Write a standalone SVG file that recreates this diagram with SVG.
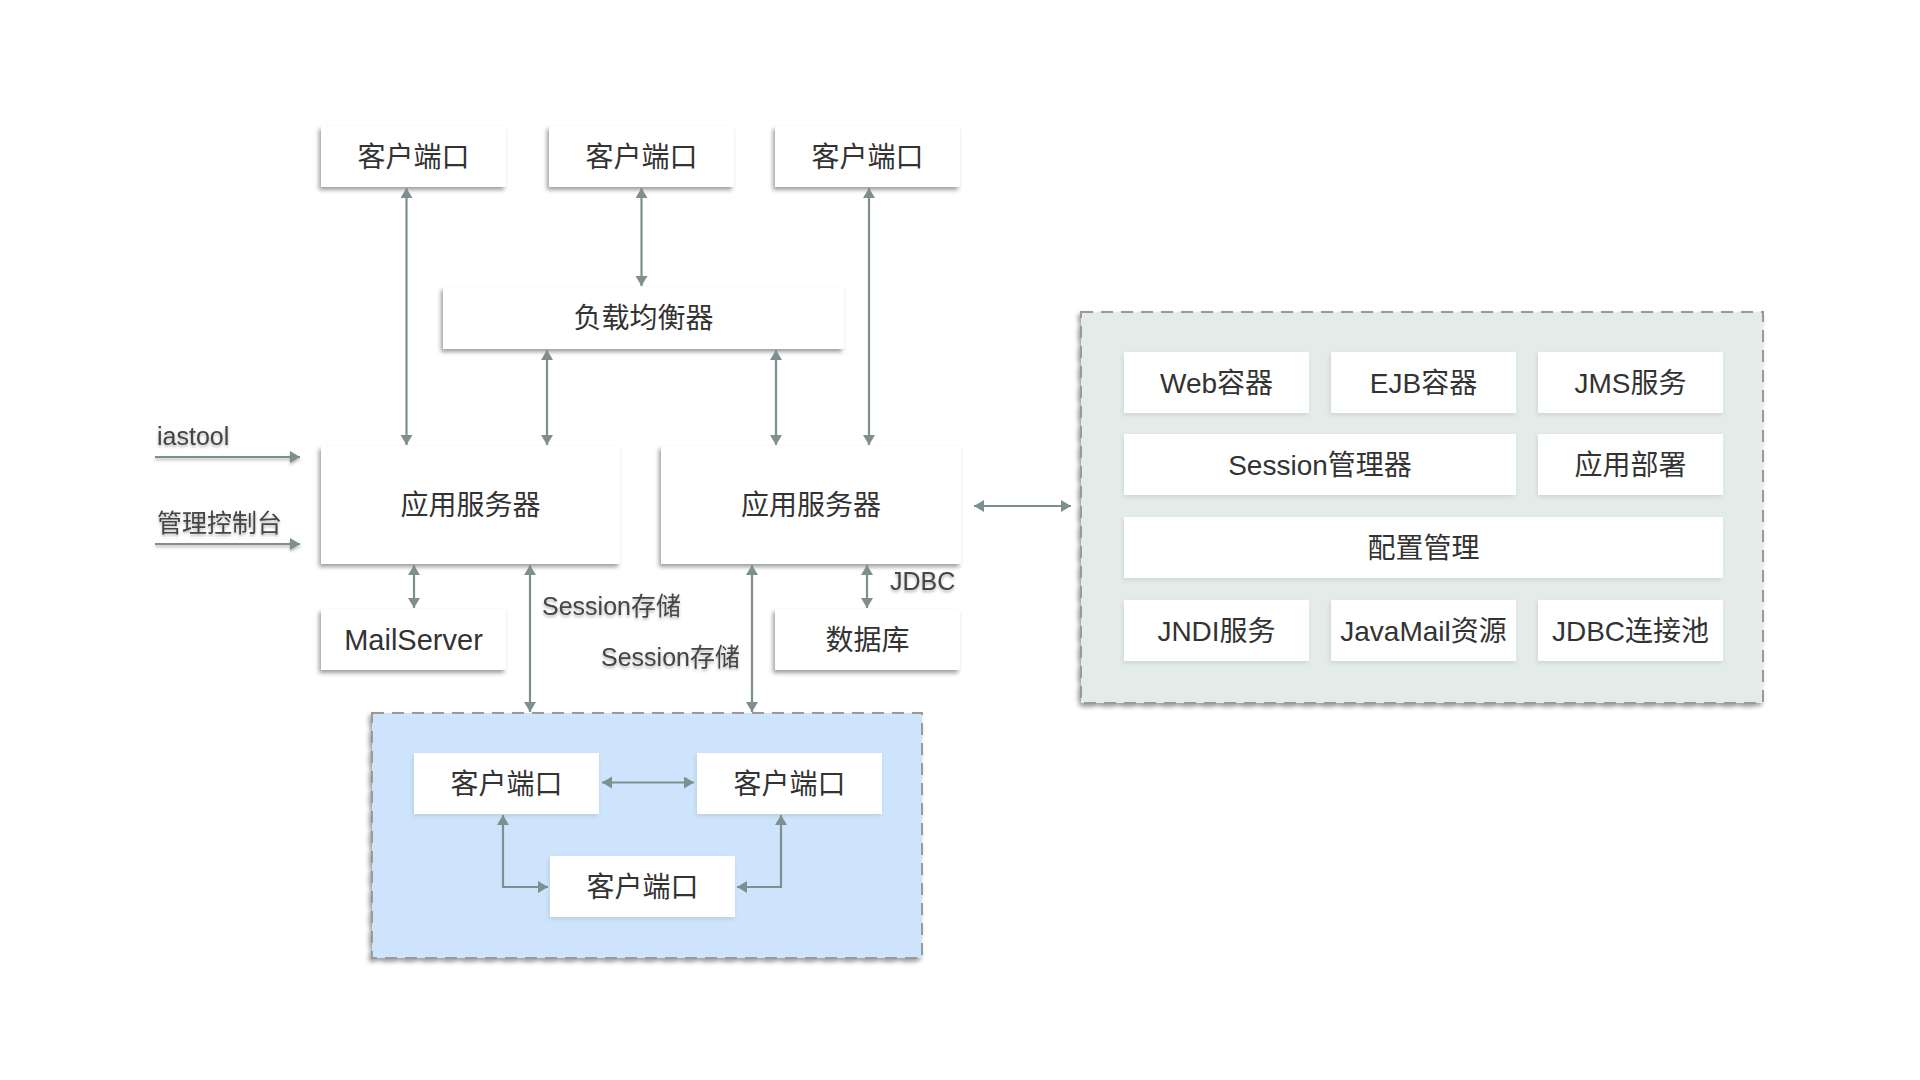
<svg xmlns="http://www.w3.org/2000/svg" width="1920" height="1080" viewBox="0 0 1920 1080">
<style>
.box{fill:#ffffff;}
.t{font-family:"Liberation Sans","Noto Sans CJK SC",sans-serif;font-size:28px;fill:#333333;text-anchor:middle;}
.lbl{font-family:"Liberation Sans","Noto Sans CJK SC",sans-serif;font-size:25px;fill:#444444;}
.c{fill:none;stroke:#7d8f8f;stroke-width:2.2;}
.grp{stroke:#9a9a9a;stroke-width:2;stroke-dasharray:12 8;}
</style>
<defs>
<filter id="sh" x="-10%" y="-20%" width="120%" height="150%">
<feDropShadow dx="-2" dy="3" stdDeviation="2" flood-color="#000" flood-opacity="0.38"/>
</filter>
<filter id="shl" x="-10%" y="-20%" width="120%" height="150%">
<feDropShadow dx="-1" dy="2" stdDeviation="2" flood-color="#000" flood-opacity="0.10"/>
</filter>
<filter id="tsh" x="-10%" y="-30%" width="120%" height="180%">
<feDropShadow dx="0" dy="2" stdDeviation="1.5" flood-color="#000" flood-opacity="0.3"/>
</filter>
<filter id="lsh" filterUnits="userSpaceOnUse" x="100" y="420" width="240" height="160">
<feDropShadow dx="0" dy="2" stdDeviation="1.5" flood-color="#000" flood-opacity="0.3"/>
</filter>
<marker id="ah" markerUnits="userSpaceOnUse" markerWidth="12" markerHeight="14" refX="10" refY="6" orient="auto-start-reverse">
<path d="M0,0 L10,6 L0,12 Z" fill="#7d8f8f"/>
</marker>
</defs>
<rect width="1920" height="1080" fill="#ffffff"/>

<g id="group-session">
<rect class="grp" x="372" y="713" width="550" height="245" fill="#cde4fc" filter="url(#sh)"/>
</g>
<g id="group-services">
<rect class="grp" x="1081" y="312" width="682" height="391" fill="#e4ecea" filter="url(#sh)"/>
</g>

<g id="client-1"><rect class="box" x="321" y="126" width="185" height="61" filter="url(#sh)"/><text class="t" x="413.5" y="166.5">客户端口</text></g>
<g id="client-2"><rect class="box" x="549" y="126" width="185" height="61" filter="url(#sh)"/><text class="t" x="641.5" y="166.5">客户端口</text></g>
<g id="client-3"><rect class="box" x="775" y="126" width="185" height="61" filter="url(#sh)"/><text class="t" x="867.5" y="166.5">客户端口</text></g>
<g id="load-balancer"><rect class="box" x="443" y="287" width="401" height="62" filter="url(#sh)"/><text class="t" x="643.5" y="328">负载均衡器</text></g>
<g id="app-server-1"><rect class="box" x="321" y="446" width="299" height="118" filter="url(#sh)"/><text class="t" x="470.5" y="515">应用服务器</text></g>
<g id="app-server-2"><rect class="box" x="661" y="446" width="300" height="118" filter="url(#sh)"/><text class="t" x="811" y="515">应用服务器</text></g>
<g id="mailserver"><rect class="box" x="321" y="609" width="185" height="61" filter="url(#sh)"/><text class="t" x="413.5" y="649.5" style="font-size:29px">MailServer</text></g>
<g id="database"><rect class="box" x="775" y="609" width="185" height="61" filter="url(#sh)"/><text class="t" x="867.5" y="649.5">数据库</text></g>

<g id="session-client-left"><rect class="box" x="414" y="753" width="185" height="61" filter="url(#shl)"/><text class="t" x="506.5" y="793.5">客户端口</text></g>
<g id="session-client-right"><rect class="box" x="697" y="753" width="185" height="61" filter="url(#shl)"/><text class="t" x="789.5" y="793.5">客户端口</text></g>
<g id="session-client-bottom"><rect class="box" x="550" y="856" width="185" height="61" filter="url(#shl)"/><text class="t" x="642.5" y="896.5">客户端口</text></g>

<g id="web-container"><rect class="box" x="1124" y="352" width="185" height="61" filter="url(#shl)"/><text class="t" x="1216.5" y="392.5">Web容器</text></g>
<g id="ejb-container"><rect class="box" x="1331" y="352" width="185" height="61" filter="url(#shl)"/><text class="t" x="1423.5" y="392.5">EJB容器</text></g>
<g id="jms-service"><rect class="box" x="1538" y="352" width="185" height="61" filter="url(#shl)"/><text class="t" x="1630.5" y="392.5">JMS服务</text></g>
<g id="session-manager"><rect class="box" x="1124" y="434" width="392" height="61" filter="url(#shl)"/><text class="t" x="1320" y="474.5">Session管理器</text></g>
<g id="app-deploy"><rect class="box" x="1538" y="434" width="185" height="61" filter="url(#shl)"/><text class="t" x="1630.5" y="474.5">应用部署</text></g>
<g id="config-manage"><rect class="box" x="1124" y="517" width="599" height="61" filter="url(#shl)"/><text class="t" x="1423.5" y="557.5">配置管理</text></g>
<g id="jndi-service"><rect class="box" x="1124" y="600" width="185" height="61" filter="url(#shl)"/><text class="t" x="1216.5" y="640.5">JNDI服务</text></g>
<g id="javamail"><rect class="box" x="1331" y="600" width="185" height="61" filter="url(#shl)"/><text class="t" x="1423.5" y="640.5">JavaMail资源</text></g>
<g id="jdbc-pool"><rect class="box" x="1538" y="600" width="185" height="61" filter="url(#shl)"/><text class="t" x="1630.5" y="640.5">JDBC连接池</text></g>

<g id="connectors">
<path class="c" d="M406.5,188 V445" marker-start="url(#ah)" marker-end="url(#ah)"/>
<path class="c" d="M641.5,188 V286" marker-start="url(#ah)" marker-end="url(#ah)"/>
<path class="c" d="M869,188 V445" marker-start="url(#ah)" marker-end="url(#ah)"/>
<path class="c" d="M547,350 V445" marker-start="url(#ah)" marker-end="url(#ah)"/>
<path class="c" d="M776,350 V445" marker-start="url(#ah)" marker-end="url(#ah)"/>
<path class="c" d="M155,457 H300" marker-end="url(#ah)" filter="url(#lsh)" stroke-width="2.6"/>
<path class="c" d="M155,544 H300" marker-end="url(#ah)" filter="url(#lsh)" stroke-width="2.6"/>
<path class="c" d="M414,565 V608" marker-start="url(#ah)" marker-end="url(#ah)"/>
<path class="c" d="M530,565 V712" marker-start="url(#ah)" marker-end="url(#ah)"/>
<path class="c" d="M752,565 V712" marker-start="url(#ah)" marker-end="url(#ah)"/>
<path class="c" d="M867,565 V608" marker-start="url(#ah)" marker-end="url(#ah)"/>
<path class="c" d="M974,506 H1071" marker-start="url(#ah)" marker-end="url(#ah)"/>
<path class="c" d="M602,782.5 H694" marker-start="url(#ah)" marker-end="url(#ah)"/>
<path class="c" d="M503,815 V887 H548" marker-start="url(#ah)" marker-end="url(#ah)"/>
<path class="c" d="M781,815 V887 H737" marker-start="url(#ah)" marker-end="url(#ah)"/>
<text class="lbl" x="157" y="445" filter="url(#tsh)">iastool</text>
<text class="lbl" x="157" y="532" filter="url(#tsh)">管理控制台</text>
<text class="lbl" x="542" y="615" filter="url(#tsh)">Session存储</text>
<text class="lbl" x="601" y="666" filter="url(#tsh)">Session存储</text>
<text class="lbl" x="890" y="590" filter="url(#tsh)">JDBC</text>
</g>
</svg>
